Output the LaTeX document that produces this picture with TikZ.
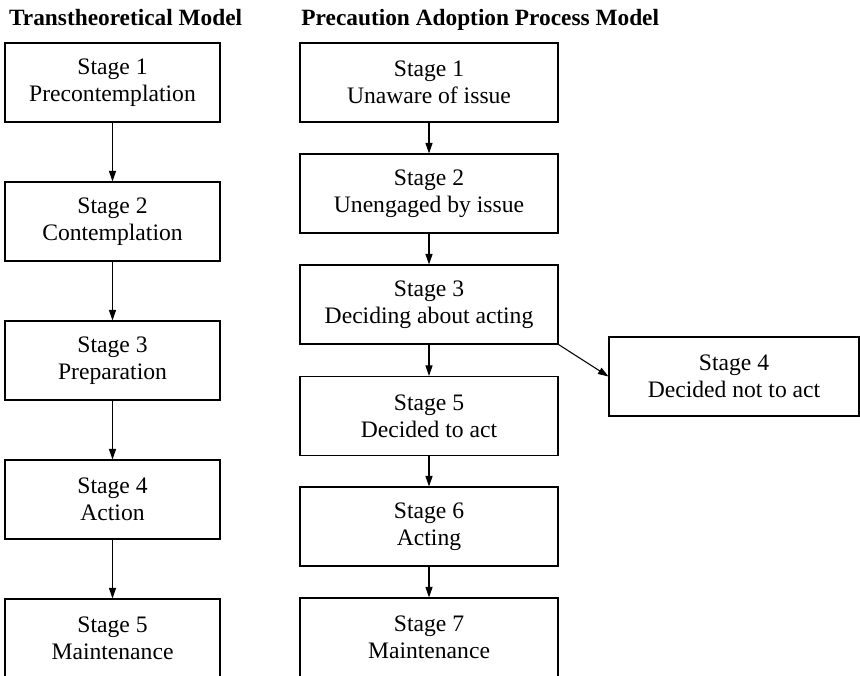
\documentclass[tikz,border=0pt]{standalone}
\usepackage{fontspec}
\setmainfont{Liberation Serif}
\usepackage{tikz}
\usetikzlibrary{arrows.meta, positioning}

\begin{document}
\begin{tikzpicture}[
    box/.style={rectangle, draw, line width=0.75pt, minimum height=1.975cm, align=center, inner sep=0pt, font=\fontsize{16.8}{19.4}\selectfont},
    ttmbox/.style={box, minimum width=5.375cm},
    papbox/.style={box, minimum width=6.45cm},
    title/.style={anchor=base west, inner sep=0pt, font=\fontsize{16.6}{19.4}\selectfont\bfseries},
    arrow/.style={-{Triangle[length=7.5pt, width=5pt]}, line width=0.75pt}
]
\clip (0,0) rectangle (21.5,-16.9);

\node[title] (ttmtitle) at (0.22,-0.65) {Transtheoretical Model};
\node[title] (paptitle) at (7.53,-0.65) {Precaution Adoption Process Model};

\node[ttmbox] (ttm1) at (2.8125,-2.0625) {Stage 1\\Precontemplation};
\node[ttmbox] (ttm2) at (2.8125,-5.5375) {Stage 2\\Contemplation};
\node[ttmbox] (ttm3) at (2.8125,-9.0125) {Stage 3\\Preparation};
\node[ttmbox] (ttm4) at (2.8125,-12.4875) {Stage 4\\Action};
\node[ttmbox] (ttm5) at (2.8125,-15.9625) {Stage 5\\Maintenance};

\draw[arrow] (ttm1) -- (ttm2);
\draw[arrow] (ttm2) -- (ttm3);
\draw[arrow] (ttm3) -- (ttm4);
\draw[arrow] (ttm4) -- (ttm5);

\node[papbox] (pap1) at (10.725,-2.0625) {Stage 1\\Unaware of issue};
\node[papbox] (pap2) at (10.725,-4.8375) {Stage 2\\Unengaged by issue};
\node[papbox] (pap3) at (10.725,-7.6125) {Stage 3\\Deciding about acting};
\node[papbox] (pap5) at (10.725,-10.4) {Stage 5\\Decided to act};
\node[papbox] (pap6) at (10.725,-13.1625) {Stage 6\\Acting};
\node[papbox] (pap7) at (10.725,-15.9375) {Stage 7\\Maintenance};
\node[box, minimum width=6.25cm] (pap4) at (18.35,-9.4125) {Stage 4\\Decided not to act};

\draw[arrow] (pap1) -- (pap2);
\draw[arrow] (pap2) -- (pap3);
\draw[arrow] (pap3) -- (pap5);
\draw[arrow] (pap5) -- (pap6);
\draw[arrow] (pap6) -- (pap7);
\draw[arrow] (pap3.south east) -- (pap4.west);

\end{tikzpicture}
\end{document}
